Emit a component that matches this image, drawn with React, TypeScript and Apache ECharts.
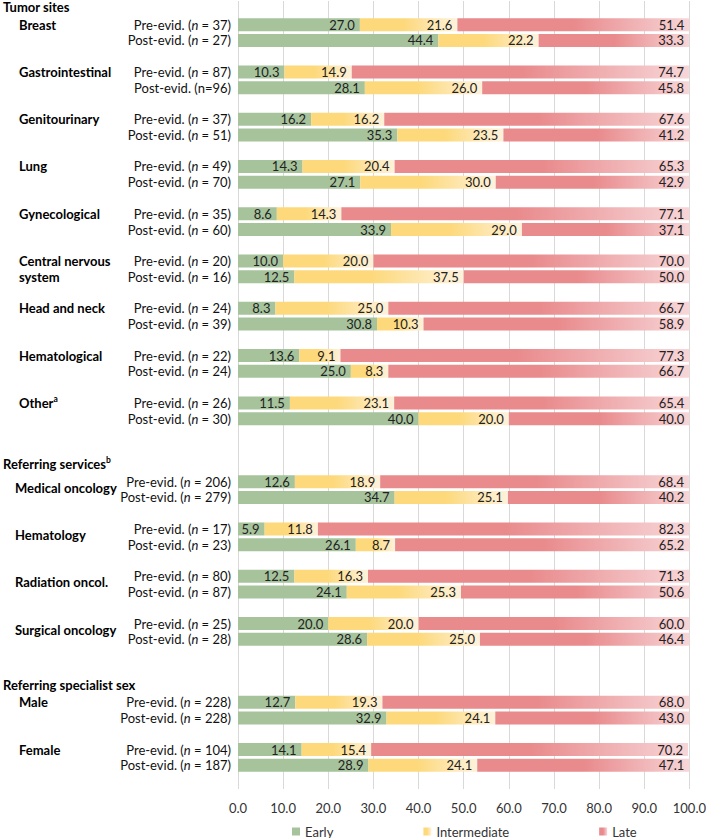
import React, { useEffect, useRef } from "react";
import * as echarts from "echarts";

// ---- Data ----
const tumorSites = ["Breast", "Gastrointestinal", "Genitourinary", "Lung", "Gynecological", "Central nervous system", "Head and neck", "Hematological", "Other"];
const tumorPreN = [37, 87, 37, 49, 35, 20, 24, 22, 26];
const tumorPostN = [27, 96, 51, 70, 60, 16, 39, 24, 30];
const tumorPostCompact = [false, true, false, false, false, false, false, false, false];
const tumorPreEarly = [27.0, 10.3, 16.2, 14.3, 8.6, 10.0, 8.3, 13.6, 11.5];
const tumorPreInter = [21.6, 14.9, 16.2, 20.4, 14.3, 20.0, 25.0, 9.1, 23.1];
const tumorPreLate = [51.4, 74.7, 67.6, 65.3, 77.1, 70.0, 66.7, 77.3, 65.4];
const tumorPostEarly = [44.4, 28.1, 35.3, 27.1, 33.9, 12.5, 30.8, 25.0, 40.0];
const tumorPostInter = [22.2, 26.0, 23.5, 30.0, 29.0, 37.5, 10.3, 8.3, 20.0];
const tumorPostLate = [33.3, 45.8, 41.2, 42.9, 37.1, 50.0, 58.9, 66.7, 40.0];

const services = ["Medical oncology", "Hematology", "Radiation oncol.", "Surgical oncology"];
const servicePreN = [206, 17, 80, 25];
const servicePostN = [279, 23, 87, 28];
const servicePreEarly = [12.6, 5.9, 12.5, 20.0];
const servicePreInter = [18.9, 11.8, 16.3, 20.0];
const servicePreLate = [68.4, 82.3, 71.3, 60.0];
const servicePostEarly = [34.7, 26.1, 24.1, 28.6];
const servicePostInter = [25.1, 8.7, 25.3, 25.0];
const servicePostLate = [40.2, 65.2, 50.6, 46.4];

const sexes = ["Male", "Female"];
const sexPreN = [228, 104];
const sexPostN = [228, 187];
const sexPreEarly = [12.7, 14.1];
const sexPreInter = [19.3, 15.4];
const sexPreLate = [68.0, 70.2];
const sexPostEarly = [32.9, 28.9];
const sexPostInter = [24.1, 24.1];
const sexPostLate = [43.0, 47.1];

const seriesNames = ["Early", "Intermediate", "Late"];
const xTicks = [0, 10, 20, 30, 40, 50, 60, 70, 80, 90, 100];

type Row = {
  kind: "header" | "blank" | "pre" | "post";
  text?: string;
  sup?: string;
  group?: string;
  groupStyle?: string;
  n?: number;
  compact?: boolean;
  vals?: number[];
};

function buildSection(
  rows: Row[], header: string, headerSup: string, names: string[], groupStyle: string,
  preN: number[], postN: number[], preE: number[], preI: number[], preL: number[],
  postE: number[], postI: number[], postL: number[], compact?: boolean[]
) {
  rows.push({ kind: "header", text: header, sup: headerSup });
  names.forEach((nm, i) => {
    let preG = nm;
    let postG = "";
    if (nm === "Central nervous system") { preG = "Central nervous"; postG = "system"; }
    rows.push({ kind: "pre", group: preG, groupStyle, n: preN[i], vals: [preE[i], preI[i], preL[i]] });
    rows.push({ kind: "post", group: postG, groupStyle, n: postN[i], compact: compact ? compact[i] : false, vals: [postE[i], postI[i], postL[i]] });
    rows.push({ kind: "blank" });
  });
}

const rows: Row[] = [];
buildSection(rows, "Tumor sites", "", tumorSites, "g", tumorPreN, tumorPostN, tumorPreEarly, tumorPreInter, tumorPreLate, tumorPostEarly, tumorPostInter, tumorPostLate, tumorPostCompact);
rows.push({ kind: "blank" });
buildSection(rows, "Referring services", "b", services, "gs", servicePreN, servicePostN, servicePreEarly, servicePreInter, servicePreLate, servicePostEarly, servicePostInter, servicePostLate);
rows.push({ kind: "blank" });
buildSection(rows, "Referring specialist sex", "", sexes, "g", sexPreN, sexPostN, sexPreEarly, sexPreInter, sexPreLate, sexPostEarly, sexPostInter, sexPostLate);

const FONT = "Lato, 'Open Sans', sans-serif";

export default function App() {
  const ref = useRef<HTMLDivElement>(null);
  useEffect(() => {
    if (!ref.current) return;
    const chart = echarts.init(ref.current, null, { renderer: "svg" });
    const cats = rows.map((_, i) => String(i));

    const colors = [
      "#a6c39c",
      new echarts.graphic.LinearGradient(0, 0, 1, 0, [
        { offset: 0, color: "#fdd97b" },
        { offset: 0.45, color: "#fdd97b" },
        { offset: 1, color: "#fef2dc" },
      ]),
      new echarts.graphic.LinearGradient(0, 0, 1, 0, [
        { offset: 0, color: "#e98a8c" },
        { offset: 0.5, color: "#e98a8c" },
        { offset: 1, color: "#f7d6d8" },
      ]),
    ];

    const series = seriesNames.map((name, si) => ({
      name,
      type: "bar",
      stack: "total",
      barWidth: 13,
      yAxisIndex: 0,
      itemStyle: { color: colors[si] },
      label: {
        show: true,
        position: "insideRight",
        distance: 5,
        fontFamily: FONT,
        fontSize: 13,
        color: "#222",
        formatter: (p: any) => (p.value == null ? "" : Number(p.value).toFixed(1)),
      },
      data: rows.map((r) => (r.vals ? r.vals[si] : null)),
    }));

    chart.setOption({
      animation: false,
      textStyle: { fontFamily: FONT },
      grid: { left: 235, right: 16, top: 1, bottom: 49, containLabel: false },
      legend: {
        data: seriesNames,
        left: 292,
        top: 825,
        icon: "rect",
        itemWidth: 8,
        itemHeight: 8,
        itemGap: 90,
        padding: 0,
        textStyle: { fontFamily: FONT, fontSize: 13, color: "#333" },
      },
      xAxis: {
        type: "value",
        min: xTicks[0],
        max: xTicks[xTicks.length - 1],
        interval: 10,
        axisLine: { show: false },
        axisTick: { show: false },
        axisLabel: {
          fontFamily: FONT,
          fontSize: 13,
          color: "#333",
          margin: 12,
          formatter: (v: number) => v.toFixed(1),
        },
        splitLine: { show: true, lineStyle: { color: "#d9d9d9", width: 1 } },
      },
      yAxis: [
        {
          type: "category",
          inverse: true,
          data: cats,
          axisLine: { show: false },
          axisTick: { show: false },
          splitLine: { show: false },
          axisLabel: {
            interval: 0,
            margin: 7,
            fontFamily: FONT,
            fontSize: 13,
            color: "#111",
            formatter: (_v: string, idx: number) => {
              const r = rows[idx];
              if (!r || (r.kind !== "pre" && r.kind !== "post")) return "";
              const pfx = r.kind === "pre" ? "Pre-evid. " : "Post-evid. ";
              if (r.compact) return pfx + "(n=" + r.n + ")";
              return pfx + "({i|n} = " + r.n + ")";
            },
            rich: {
              i: { fontFamily: FONT, fontSize: 13, fontStyle: "italic", color: "#111" },
            },
          },
        },
        {
          type: "category",
          inverse: true,
          position: "left",
          data: cats,
          axisLine: { show: false },
          axisTick: { show: false },
          splitLine: { show: false },
          axisLabel: {
            interval: 0,
            margin: 235,
            align: "left",
            fontFamily: FONT,
            fontSize: 13,
            fontWeight: "bold",
            color: "#000",
            formatter: (_v: string, idx: number) => {
              const r = rows[idx];
              if (!r) return "";
              if (r.kind === "header") {
                return "{h|" + r.text + "}" + (r.sup ? "{hs|" + r.sup + "}" : "");
              }
              if ((r.kind === "pre" || r.kind === "post") && r.group) {
                if (r.group === "Other") return "{" + r.groupStyle + "|Other}{gsup|a}";
                return "{" + r.groupStyle + "|" + r.group + "}";
              }
              return "";
            },
            rich: {
              h: { fontFamily: FONT, fontSize: 13, fontWeight: "bold", color: "#000", padding: [0, 0, 4, 0] },
              hs: { fontFamily: FONT, fontSize: 8.5, fontWeight: "bold", color: "#000", padding: [0, 0, 12, 0] },
              g: { fontFamily: FONT, fontSize: 13, fontWeight: "bold", color: "#000", padding: [0, 0, 0, 16] },
              gs: { fontFamily: FONT, fontSize: 13, fontWeight: "bold", color: "#000", padding: [12, 0, 0, 12] },
              gsup: { fontFamily: FONT, fontSize: 8.5, fontWeight: "bold", color: "#000", padding: [0, 0, 8, 0] },
            },
          },
        },
      ],
      series,
    });
    return () => chart.dispose();
  }, []);
  return <div ref={ref} style={{ position: "absolute", left: 0, top: 0, width: 709, height: 838 }} />;
}
